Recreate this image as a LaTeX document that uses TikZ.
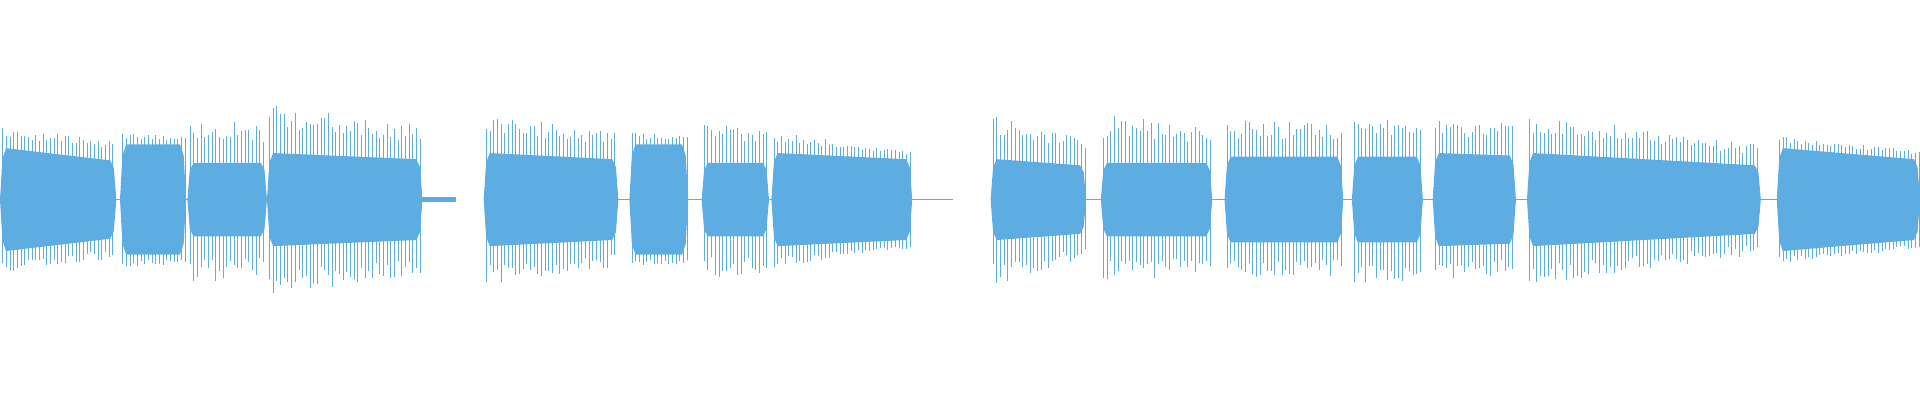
\documentclass[tikz,border=0pt]{standalone}
\definecolor{wavec}{RGB}{93,173,226}
\tikzset{wave/.style={fill=wavec,draw=none},spike/.style={draw=wavec,line width=0.45pt}}
\newcommand\wseg[6]{%
  \fill[wave] (#1,0) -- (#1+2,#3*0.8) -- (#1+5,#3) -- (#2-5,#4) -- (#2-2,#4*0.8) -- (#2,0) -- (#2-2,-#4*0.8) -- (#2-5,-#4) -- (#1+5,-#3) -- (#1+2,-#3*0.8) -- cycle;
  \pgfmathtruncatemacro\nsp{(#2-#1)/3}
  \foreach \i in {1,...,\nsp}{%
    \pgfmathsetmacro\xx{#1+3*\i-1}
    \pgfmathsetmacro\tt{(\xx-#1)/(#2-#1)}
    \pgfmathsetmacro\cc{#3+(#4-#3)*\tt}
    \pgfmathsetmacro\ss{#5+(#6-#5)*\tt}
    \pgfmathsetmacro\hh{\cc+(\ss-\cc)*(0.5+0.5*rnd)}
    \pgfmathsetmacro\hl{\cc+(\ss-\cc)*(0.5+0.5*rnd)}
    \draw[spike] (\xx,-\hl) -- (\xx,\hh);
  }}
\begin{document}
\begin{tikzpicture}[x=1pt,y=1pt]
\pgfmathsetseed{7}
\useasboundingbox (0,-164) rectangle (1568,163);
\draw[spike] (0,0) -- (372,0);
\draw[spike] (395,0) -- (778,0);
\draw[spike] (809,0) -- (1568,0);
\fill[wave] (345,-2) rectangle (372,2);
\wseg{0}{95}{42}{32}{60}{48}
\wseg{98}{152}{45}{45}{55}{52}
\wseg{153}{218}{30}{30}{70}{62}
\wseg{218}{345}{38}{33}{80}{60}
\wseg{395}{505}{38}{33}{70}{55}
\wseg{514}{562}{45}{45}{55}{52}
\wseg{573}{628}{30}{30}{65}{60}
\wseg{630}{745}{38}{33}{56}{40}
\wseg{809}{887}{33}{28}{70}{50}
\wseg{899}{990}{30}{30}{70}{62}
\wseg{1000}{1097}{35}{35}{65}{62}
\wseg{1104}{1162}{35}{35}{70}{65}
\wseg{1170}{1238}{38}{36}{65}{62}
\wseg{1247}{1438}{38}{28}{70}{45}
\wseg{1451}{1568}{42}{33}{52}{40}
\end{tikzpicture}
\end{document}
